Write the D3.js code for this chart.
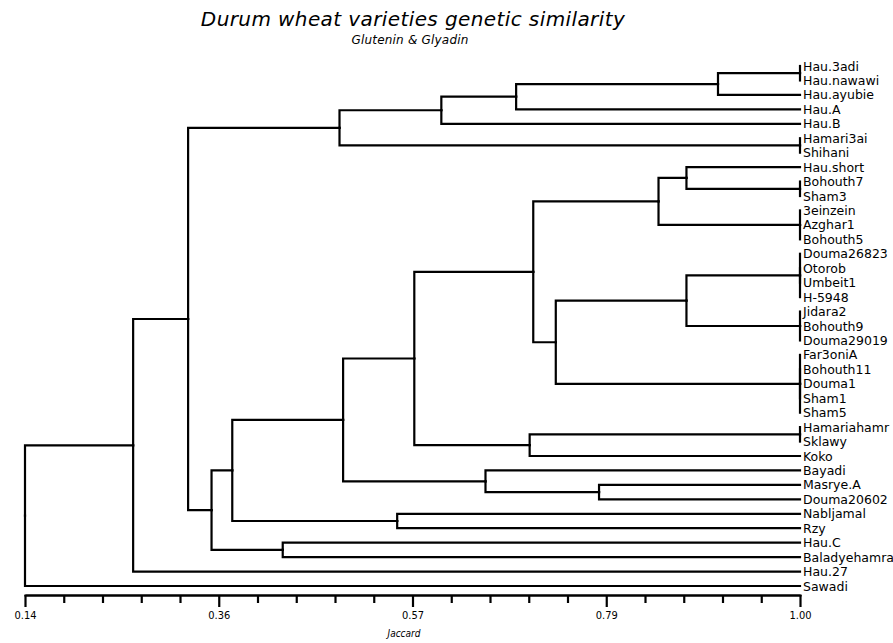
<!DOCTYPE html>
<html>
<head>
<meta charset="utf-8">
<script src="https://cdn.jsdelivr.net/npm/d3@7"></script>
<style>
  body { margin: 0; background: #fff; }
  svg { display: block; }
</style>
</head>
<body>
<div id="wrapper"></div>
<script>
// # Data
// leaf order, top to bottom
const leafNames = [
  "Hau.3adi", "Hau.nawawi", "Hau.ayubie", "Hau.A", "Hau.B",
  "Hamari3ai", "Shihani", "Hau.short", "Bohouth7", "Sham3",
  "3einzein", "Azghar1", "Bohouth5", "Douma26823", "Otorob",
  "Umbeit1", "H-5948", "Jidara2", "Bohouth9", "Douma29019",
  "Far3oniA", "Bohouth11", "Douma1", "Sham1", "Sham5",
  "Hamariahamr", "Sklawy", "Koko", "Bayadi", "Masrye.A",
  "Douma20602", "Nabljamal", "Rzy", "Hau.C", "Baladyehamra",
  "Hau.27", "Sawadi",
];

// merges: [id, children, Jaccard similarity]
const merges = [
  ["A1", ["Hau.3adi", "Hau.nawawi"], 1.00],
  ["A2", ["A1", "Hau.ayubie"], 0.909],
  ["A3", ["A2", "Hau.A"], 0.685],
  ["A4", ["A3", "Hau.B"], 0.602],
  ["B1", ["Hamari3ai", "Shihani"], 1.00],
  ["AB", ["A4", "B1"], 0.489],
  ["C1", ["Bohouth7", "Sham3"], 1.00],
  ["C2", ["Hau.short", "C1"], 0.874],
  ["C3", ["3einzein", "Azghar1", "Bohouth5"], 1.00],
  ["C4", ["C2", "C3"], 0.843],
  ["D1", ["Douma26823", "Otorob", "Umbeit1", "H-5948"], 1.00],
  ["D2", ["Jidara2", "Bohouth9", "Douma29019"], 1.00],
  ["D3", ["D1", "D2"], 0.874],
  ["D4", ["Far3oniA", "Bohouth11", "Douma1", "Sham1", "Sham5"], 1.00],
  ["D5", ["D3", "D4"], 0.729],
  ["CD", ["C4", "D5"], 0.704],
  ["E1", ["Hamariahamr", "Sklawy"], 1.00],
  ["E2", ["E1", "Koko"], 0.700],
  ["F", ["CD", "E2"], 0.572],
  ["G1", ["Masrye.A", "Douma20602"], 0.777],
  ["G2", ["Bayadi", "G1"], 0.651],
  ["H", ["F", "G2"], 0.493],
  ["I1", ["Nabljamal", "Rzy"], 0.553],
  ["I", ["H", "I1"], 0.370],
  ["J1", ["Hau.C", "Baladyehamra"], 0.426],
  ["J", ["I", "J1"], 0.347],
  ["K", ["AB", "J"], 0.321],
  ["L", ["K", "Hau.27"], 0.260],
  ["root", ["L", "Sawadi"], 0.14],
];

const majorTicks = [0.14, 0.355, 0.57, 0.785, 1.00];
const majorLabels = ["0.14", "0.36", "0.57", "0.79", "1.00"];
const minorPerMajor = 5;

const title = "Durum wheat varieties genetic similarity";
const subtitle = "Glutenin & Glyadin";
const axisTitle = "Jaccard";

// # Dimensions
const dimensions = {
  width: 893,
  height: 643,
  left: 25,
  right: 800,
  firstLeaf: 66,
  lastLeaf: 586,
  axisY: 595,
};

// # Build tree
const nodeMap = new Map();
leafNames.forEach(n => nodeMap.set(n, { name: n, sim: 1.00 }));
merges.forEach(([id, kids, sim]) => {
  nodeMap.set(id, { name: id, sim: sim, children: kids.map(k => nodeMap.get(k)) });
});
const root = d3.hierarchy(nodeMap.get("root"));

// # Scales
const xScale = d3.scaleLinear()
  .domain([0.14, 1.00])
  .range([dimensions.left, dimensions.right]);

const yScale = d3.scalePoint()
  .domain(leafNames)
  .range([dimensions.firstLeaf, dimensions.lastLeaf]);

root.eachAfter(node => {
  node.px = xScale(node.data.sim);
  node.py = node.children
    ? d3.mean(node.children, c => c.py)
    : yScale(node.data.name);
});

// # Canvas
const wrapper = d3.select("#wrapper")
  .append("svg")
  .attr("width", dimensions.width)
  .attr("height", dimensions.height);

// # Title
wrapper.append("text")
  .attr("x", 413)
  .attr("y", 26)
  .attr("text-anchor", "middle")
  .style("font-family", "DejaVu Sans, sans-serif")
  .style("font-style", "italic")
  .style("font-size", "20px")
  .style("letter-spacing", "0.4px")
  .text(title);

wrapper.append("text")
  .attr("x", 410)
  .attr("y", 44)
  .attr("text-anchor", "middle")
  .style("font-family", "DejaVu Sans, sans-serif")
  .style("font-style", "italic")
  .style("font-size", "12px")
  .style("letter-spacing", "0.2px")
  .text(subtitle);

// # Links (elbow)
const bounds = wrapper.append("g");

bounds.selectAll("path.link")
  .data(root.descendants().filter(d => d.parent))
  .join("path")
  .attr("class", "link")
  .attr("d", d => `M${d.px},${d.py}H${d.parent.px}V${d.parent.py}`)
  .attr("fill", "none")
  .attr("stroke", "#000")
  .attr("stroke-width", 2.2)
  .attr("stroke-linecap", "square");

// # Leaf labels
bounds.selectAll("text.leaf")
  .data(root.leaves())
  .join("text")
  .attr("class", "leaf")
  .attr("x", d => d.px + 3)
  .attr("y", d => d.py)
  .attr("dy", "0.36em")
  .style("font-family", "DejaVu Sans, sans-serif")
  .style("font-size", "12.5px")
  .text(d => d.data.name);

// # Axis
const minorTicks = d3.range(majorTicks.length - 1).flatMap(i =>
  d3.range(1, minorPerMajor).map(j =>
    majorTicks[i] + (majorTicks[i + 1] - majorTicks[i]) * j / minorPerMajor));

const minorAxis = bounds.append("g")
  .attr("transform", `translate(0,${dimensions.axisY})`)
  .call(d3.axisBottom(xScale).tickValues(minorTicks).tickSize(8).tickSizeOuter(0).tickFormat(""));

const majorAxis = bounds.append("g")
  .attr("transform", `translate(0,${dimensions.axisY})`)
  .call(d3.axisBottom(xScale)
    .tickValues(majorTicks)
    .tickSize(12)
    .tickSizeOuter(0)
    .tickPadding(4)
    .tickFormat((d, i) => majorLabels[i]));

[minorAxis, majorAxis].forEach(ax => {
  ax.selectAll("path, line")
    .attr("stroke", "#000")
    .attr("stroke-width", 2.2);
  ax.selectAll("text")
    .attr("fill", "#000")
    .style("font-family", "Liberation Sans Narrow, DejaVu Sans Condensed, sans-serif")
    .style("font-size", "11px");
});
majorAxis.select(".domain").attr("stroke-linecap", "square");

wrapper.append("text")
  .attr("x", 404)
  .attr("y", 637)
  .attr("text-anchor", "middle")
  .style("font-family", "DejaVu Sans Condensed, sans-serif")
  .style("font-style", "italic")
  .style("font-size", "10px")
  .text(axisTitle);
</script>
</body>
</html>
